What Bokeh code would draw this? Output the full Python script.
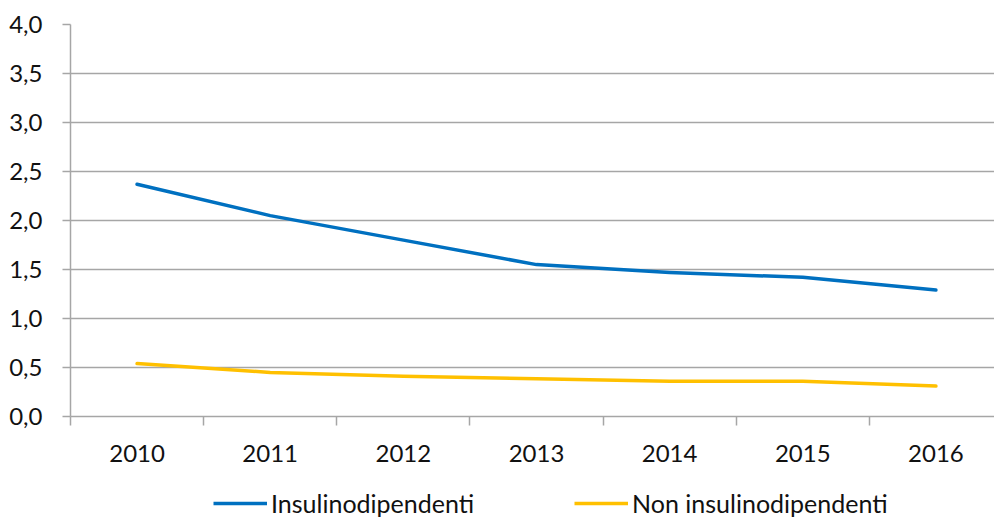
from bokeh.plotting import figure
from bokeh.models import FixedTicker, Range1d, Legend, LegendItem
from bokeh.layouts import column
from bokeh.embed import file_html
from bokeh.resources import INLINE

years = ["2010", "2011", "2012", "2013", "2014", "2015", "2016"]
insulino = [2.37, 2.05, 1.80, 1.55, 1.47, 1.42, 1.29]
non_insulino = [0.54, 0.45, 0.41, 0.385, 0.36, 0.36, 0.31]
series_names = ["Insulinodipendenti", "Non insulinodipendenti"]
y_ticks = [0.0, 0.5, 1.0, 1.5, 2.0, 2.5, 3.0, 3.5, 4.0]
y_labels = ["0,0", "0,5", "1,0", "1,5", "2,0", "2,5", "3,0", "3,5", "4,0"]

xs = list(range(len(years)))
FONT = "Lato"
GRID = "#a6a6a6"
BLUE = "#0070c0"
YELLOW = "#ffc000"

p = figure(width=994, height=476, output_backend="svg", toolbar_location=None,
           x_range=Range1d(-0.5, 6.44), y_range=Range1d(0, 4.0),
           min_border_left=70, min_border_right=0, min_border_top=24, min_border_bottom=60)
p.outline_line_color = None
p.background_fill_color = "white"

# y axis
p.yaxis.ticker = FixedTicker(ticks=y_ticks)
p.yaxis.major_label_overrides = {t: l for t, l in zip(y_ticks, y_labels)}
p.yaxis.axis_line_color = GRID
p.yaxis.axis_line_width = 1.5
p.yaxis.major_tick_line_color = GRID
p.yaxis.major_tick_line_width = 1.5
p.yaxis.major_tick_out = 8
p.yaxis.major_tick_in = 0
p.yaxis.minor_tick_line_color = None
p.yaxis.major_label_standoff = 20
p.yaxis.major_label_text_font = FONT
p.yaxis.major_label_text_font_size = "24px"
p.yaxis.major_label_text_color = "#111111"

# x axis
p.xaxis.ticker = FixedTicker(ticks=xs, minor_ticks=[x - 0.5 for x in xs] + [6.5])
p.xaxis.major_label_overrides = {x: y for x, y in zip(xs, years)}
p.xaxis.axis_line_color = GRID
p.xaxis.axis_line_width = 1.5
p.xaxis.major_tick_line_color = None
p.xaxis.major_tick_out = 0
p.xaxis.major_tick_in = 0
p.xaxis.minor_tick_line_color = GRID
p.xaxis.minor_tick_line_width = 1.5
p.xaxis.minor_tick_out = 9
p.xaxis.minor_tick_in = 0
p.xaxis.major_label_standoff = 19
p.xaxis.major_label_text_font = FONT
p.xaxis.major_label_text_font_size = "24px"
p.xaxis.major_label_text_color = "#111111"

p.xgrid.grid_line_color = None
p.ygrid.ticker = FixedTicker(ticks=y_ticks)
p.ygrid.grid_line_color = GRID
p.ygrid.grid_line_width = 1.5

p.line(xs, insulino, line_color=BLUE, line_width=3.5, line_cap="round", line_join="round")
p.line(xs, non_insulino, line_color=YELLOW, line_width=3.5, line_cap="round", line_join="round")

# legend strip below the chart
lg = figure(width=994, height=44, output_backend="svg", toolbar_location=None,
            x_range=Range1d(100, 101), y_range=Range1d(100, 101),
            min_border_left=0, min_border_right=0, min_border_top=0, min_border_bottom=0)
lg.axis.visible = False
lg.grid.grid_line_color = None
lg.outline_line_color = None
l1 = lg.line(xs, insulino, line_color=BLUE, line_width=3.5)
l2 = lg.line(xs, non_insulino, line_color=YELLOW, line_width=3.5)

legend = Legend(items=[LegendItem(label=series_names[0], renderers=[l1]),
                       LegendItem(label=series_names[1], renderers=[l2])],
                orientation="horizontal", location=(143, 2))
legend.border_line_color = None
legend.background_fill_alpha = 0
legend.label_text_font = FONT
legend.label_text_font_size = "25px"
legend.label_text_color = "#111111"
legend.glyph_width = 54
legend.label_standoff = 4
legend.spacing = 100
legend.padding = 0
legend.margin = 0
lg.add_layout(legend, "center")

layout = column(p, lg, spacing=0)
open("out.html", "w").write(file_html(layout, INLINE))
